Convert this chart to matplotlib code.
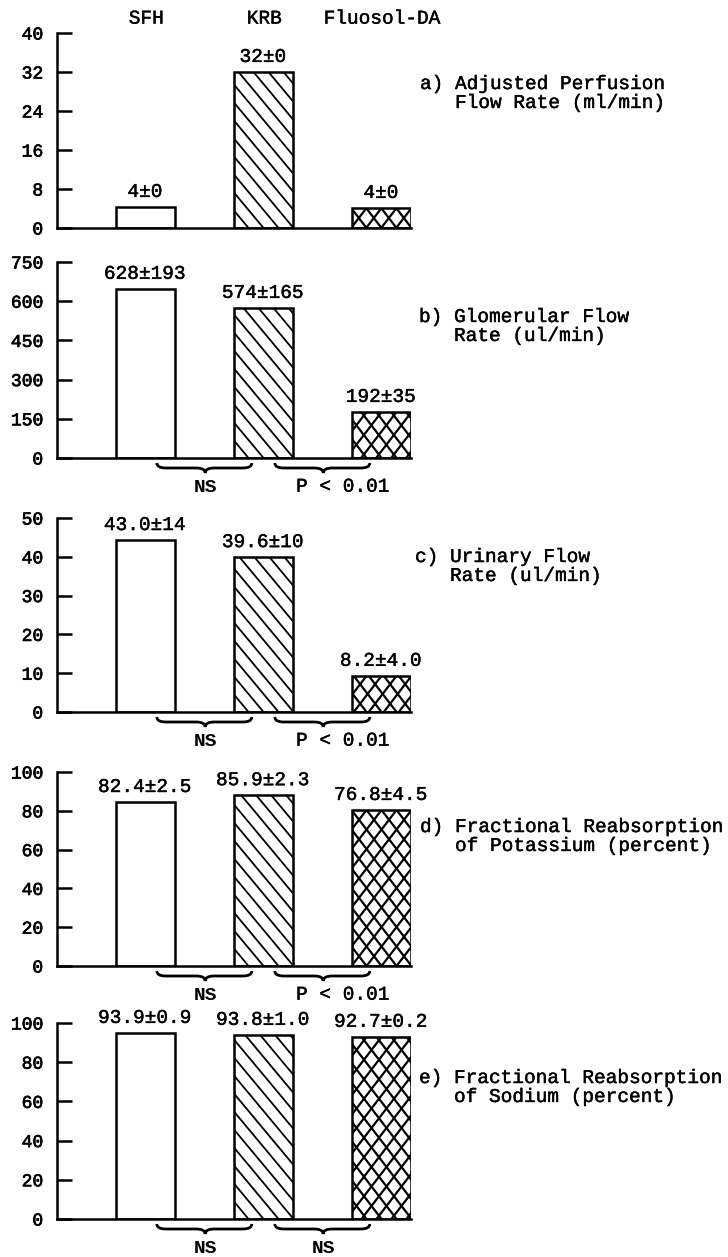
import numpy as np
import matplotlib
matplotlib.use("Agg")
import matplotlib.pyplot as plt
import matplotlib.patheffects as pe
from matplotlib.lines import Line2D
from matplotlib.patches import PathPatch
from matplotlib.path import Path
from matplotlib.transforms import IdentityTransform

plt.rcParams['font.family'] = ['Liberation Mono', 'DejaVu Sans Mono']

groups = ["SFH", "KRB", "Fluosol-DA"]

# bar heights as drawn, and the printed mean+-sd labels
flow_perf = [4.3, 32, 4.1]
flow_perf_lbl = ["4±0", "32±0", "4±0"]
glom = [647, 574, 176]
glom_lbl = ["628±193", "574±165", "192±35"]
urin = [44.3, 39.9, 9.3]
urin_lbl = ["43.0±14", "39.6±10", "8.2±4.0"]
potas = [84.5, 88.0, 80.4]
potas_lbl = ["82.4±2.5", "85.9±2.3", "76.8±4.5"]
sodium = [94.9, 93.9, 92.9]
sodium_lbl = ["93.9±0.9", "93.8±1.0", "92.7±0.2"]

ticks_a = [0, 8, 16, 24, 32, 40]
ticks_b = [0, 150, 300, 450, 600, 750]
ticks_c = [0, 10, 20, 30, 40, 50]
ticks_pct = [0, 20, 40, 60, 80, 100]

titles = ["a) Adjusted Perfusion\n   Flow Rate (ml/min)",
          "b) Glomerular Flow\n   Rate (ul/min)",
          "c) Urinary Flow\n   Rate (ul/min)",
          "d) Fractional Reabsorption\n   of Potassium (percent)",
          "e) Fractional Reabsorption\n   of Sodium (percent)"]

sig_b = ["NS", "P < 0.01"]
sig_c = ["NS", "P < 0.01"]
sig_d = ["NS", "P < 0.01"]
sig_e = ["NS", "NS"]

panels = [
    (flow_perf, flow_perf_lbl, ticks_a, None),
    (glom, glom_lbl, ticks_b, sig_b),
    (urin, urin_lbl, ticks_c, sig_c),
    (potas, potas_lbl, ticks_pct, sig_d),
    (sodium, sodium_lbl, ticks_pct, sig_e),
]

W, H = 728, 1257
# pixel top / bottom of every panel, and where its side title sits
tops = [33, 262, 518, 772, 1023]
bottoms = [228, 458, 712, 966, 1219]
title_pos = [(420, 94), (419, 327), (415, 567), (420, 837), (419, 1088)]

ink = [pe.withStroke(linewidth=0.3, foreground='black')]   # typewriter weight
ink_tk = [pe.withStroke(linewidth=0.5, foreground='black')]

fig = plt.figure(figsize=(W / 100, H / 100), dpi=100)
x = np.arange(3)


def hatch(ax, bar, slopes, step, lw=1.3):
    (x0, y0), (x1, y1) = ax.transData.transform(
        [(bar.get_x(), 0), (bar.get_x() + bar.get_width(), bar.get_height())])
    h = y1 - y0
    for s in slopes:
        run = h / abs(s)
        c = x0 - run
        while c < x1 + step:
            if s < 0:
                xs, ys = [c, c + run], [y1, y0]
            else:
                xs, ys = [c, c + run], [y0, y1]
            ln = Line2D(xs, ys, transform=IdentityTransform(), color='black', lw=lw)
            ax.add_artist(ln)
            ln.set_clip_path(bar)   # after add_artist, else it gets the axes patch
            c += step


def brace(ax, xa, xb, xm):
    (Xa, yb), (Xb, _), (Xm, _) = ax.transData.transform([(xa, 0), (xb, 0), (xm, 0)])
    y0, ym, yt = yb - 5, yb - 10, yb - 15
    r = 9
    verts = [(Xa, y0), (Xa, ym), (Xa + r, ym), (Xm - r, ym), (Xm, ym), (Xm, yt),
             (Xm, ym), (Xm + r, ym), (Xb - r, ym), (Xb, ym), (Xb, y0)]
    codes = [Path.MOVETO, Path.CURVE3, Path.CURVE3, Path.LINETO, Path.CURVE3, Path.CURVE3,
             Path.CURVE3, Path.CURVE3, Path.LINETO, Path.CURVE3, Path.CURVE3]
    p = PathPatch(Path(verts, codes), transform=IdentityTransform(), fill=False,
                  lw=2.0, edgecolor='black')
    fig.add_artist(p)


for k, (vals, lbls, ticks, sig) in enumerate(panels):
    top, bot = tops[k], bottoms[k]
    ax = fig.add_axes([57 / W, 1 - bot / H, (411 - 57) / W, (bot - top) / H])
    ax.set_xlim(-0.746, 2.254)
    ax.set_ylim(0, ticks[-1])
    bars = ax.bar(x, vals, width=0.5, color='white', edgecolor='black', linewidth=1.8)
    ax.set_yticks(ticks)
    ax.set_yticklabels([str(t) for t in ticks])
    for t in ax.get_yticklabels():
        t.set_path_effects(ink_tk)
    ax.set_xticks([])
    for sp in ['top', 'right']:
        ax.spines[sp].set_visible(False)
    for sp in ['left', 'bottom']:
        ax.spines[sp].set_linewidth(1.8)
    ax.tick_params(axis='y', direction='in', length=11, width=1.8, pad=10, labelsize=13)

    hatch(ax, bars[1], [-1.2], 15)
    hatch(ax, bars[2], [-1.3, 1.3], 15, lw=1.6)

    for i, (v, s) in enumerate(zip(vals, lbls)):
        ax.annotate(s, xy=(i, v), xytext=(0, 10.5), textcoords='offset points',
                    ha='center', va='center', fontsize=14, path_effects=ink)

    if k == 0:
        for i, g in enumerate(groups):
            ax.annotate(g, xy=(i, ticks[-1]), xytext=(1, 10), textcoords='offset points',
                        ha='center', va='center', fontsize=14, path_effects=ink)

    if sig is not None:
        for j, s in enumerate(sig):
            brace(ax, j + 0.1, j + 0.905, j + 0.51)
            if s.startswith('P'):
                ax.annotate(s, xy=(j + 0.28, 0), xytext=(0, -21), textcoords='offset points',
                            ha='left', va='center', fontsize=14, path_effects=ink,
                            annotation_clip=False)
            else:
                ax.annotate(s, xy=(j + 0.51, 0), xytext=(0, -21), textcoords='offset points',
                            ha='center', va='center', fontsize=14, fontweight='bold',
                            annotation_clip=False)

    tx, ty = title_pos[k]
    fig.text(tx / W, 1 - ty / H, titles[k], ha='left', va='center', fontsize=14,
             linespacing=1.15, path_effects=ink)

fig.savefig("out.png", dpi=100)
